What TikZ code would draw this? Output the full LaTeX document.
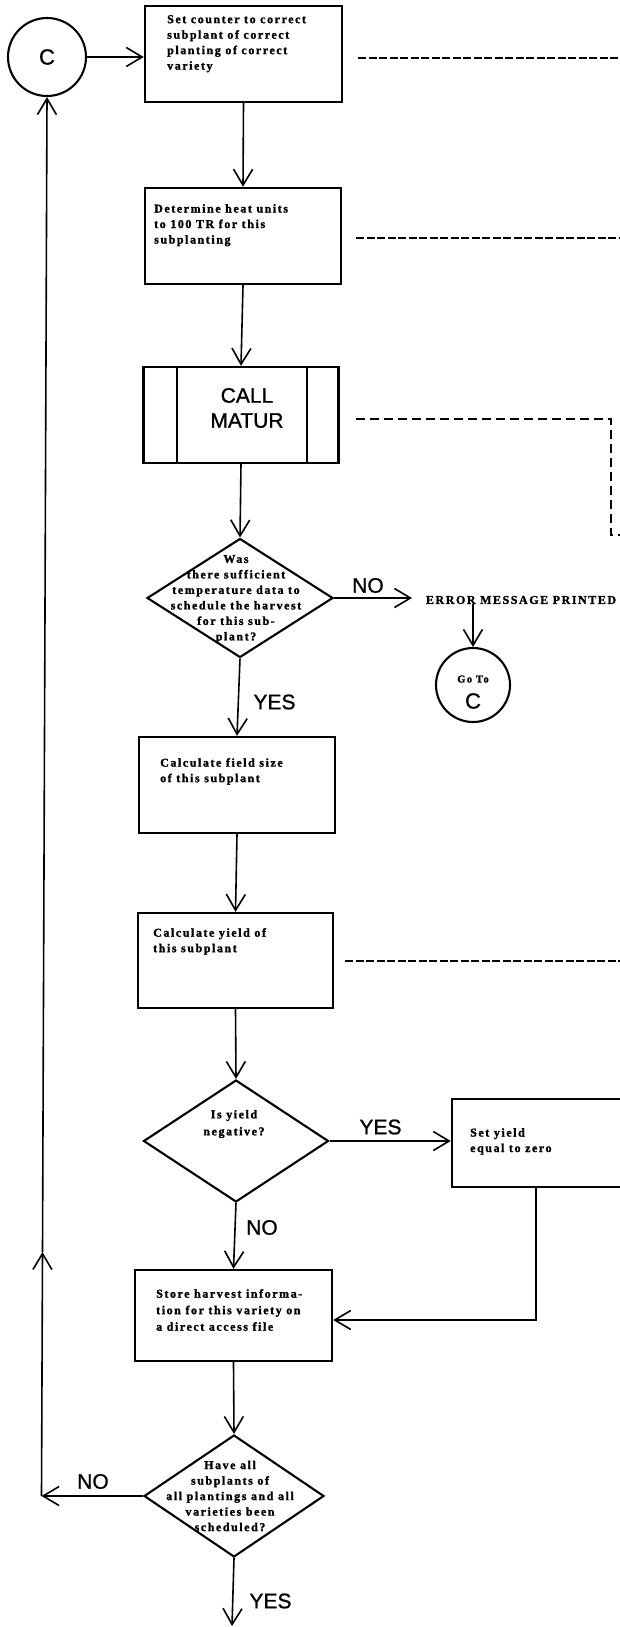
\documentclass[tikz,border=0pt]{standalone}
\usepackage{fontspec}
\setmainfont{Liberation Serif}
\newfontfamily\flowfont[LetterSpace=13,FakeBold=1.5]{Liberation Serif}
\newfontfamily\tagfont[FakeBold=1]{Liberation Sans}
\usetikzlibrary{shapes.geometric,arrows.meta}
\begin{document}
\begin{tikzpicture}[x=1pt,y=-1pt,
  proc/.style={draw, line width=2.4pt, rectangle, inner sep=0pt},
  decide/.style={draw, line width=2.1pt, diamond, inner sep=0pt},
  conn/.style={draw, line width=2.1pt, circle, inner sep=0pt},
  body/.style={inner sep=0pt, align=left, anchor=north west,
    font=\flowfont\bfseries\fontsize{12}{15.5}\selectfont},
  ask/.style={inner sep=0pt, align=center,
    font=\flowfont\bfseries\fontsize{12}{15.5}\selectfont},
  tag/.style={inner sep=0pt, font=\tagfont\fontsize{21}{21}\selectfont},
  flow/.style={line width=1.6pt, -{Straight Barb[length=16pt,width=19pt]}},
  link/.style={line width=2.4pt, dash pattern=on 8pt off 2.5pt},
  sublink/.style={line width=2pt, dash pattern=on 9pt off 5pt},
]
\fill[white] (0,0) rectangle (620,1627);
\useasboundingbox (0,0) rectangle (620,1627);

% entry connector
\node[conn, minimum size=78pt, font=\tagfont\fontsize{22}{22}\selectfont] (c) at (47,57) {C};

% process boxes
\node[proc, minimum width=197pt, minimum height=96pt] (b1) at (243.5,54) {};
\node[body] (b1t) at (167,15) {Set counter to correct\\subplant of correct\\planting of correct\\variety};

\node[proc, minimum width=196pt, minimum height=96pt] (b2) at (243,236) {};
\node[body] (b2t) at (154,204) {Determine heat units\\to 100 TR for this\\subplanting};

% subroutine call
\node[proc, minimum width=195pt, minimum height=96pt] (call) at (241,415) {};
\draw[line width=2.4pt] (177,367) -- (177,463) (307,367) -- (307,463);
\node[tag, align=center, font=\tagfont\fontsize{21}{25}\selectfont] (callt) at (247,408) {CALL\\MATUR};

% temperature check
\node[decide, minimum width=186pt, minimum height=119pt] (d1) at (240,598) {};
\node[ask] (d1t) at (236,599) {Was\\there sufficient\\temperature data to\\schedule the harvest\\for this sub-\\plant?};

\node[inner sep=0pt, outer xsep=14pt, anchor=west,
  font=\flowfont\bfseries\fontsize{12}{13}\selectfont] (err) at (412,600) {ERROR MESSAGE PRINTED};
\node[conn, minimum size=74pt] (goto) at (473,685) {};
\node[inner sep=0pt, font=\flowfont\bfseries\fontsize{10.5}{12}\selectfont] (gotot) at (473,679) {Go To};
\node[inner sep=0pt, font=\tagfont\fontsize{22}{22}\selectfont] (gotoc) at (473,701) {C};

\node[proc, minimum width=196pt, minimum height=96pt] (b3) at (237,785) {};
\node[body] (b3t) at (160,758) {Calculate field size\\of this subplant};

\node[proc, minimum width=195pt, minimum height=95pt] (b4) at (235.5,960.5) {};
\node[body] (b4t) at (153,928) {Calculate yield of\\this subplant};

% negative yield check
\node[decide, minimum width=185pt, minimum height=122pt] (d2) at (236,1141) {};
\node[ask, font=\flowfont\bfseries\fontsize{12}{17}\selectfont] (d2t) at (234,1124) {Is yield\\negative?};

\node[proc, minimum width=198pt, minimum height=88pt] (b5) at (551,1143) {};
\node[body] (b5t) at (470,1128) {Set yield\\equal to zero};

\node[proc, minimum width=197pt, minimum height=91pt] (b6) at (233.5,1315.5) {};
\node[body, font=\flowfont\bfseries\fontsize{12}{16.5}\selectfont] (b6t) at (156,1289) {Store harvest informa-\\tion for this variety on\\a direct access file};

% loop test
\node[decide, minimum width=180pt, minimum height=122pt] (d3) at (234,1496) {};
\node[ask] (d3t) at (230,1496) {Have all\\subplants of\\all plantings and all\\varieties been\\scheduled?};

% branch labels
\node[tag] (no1) at (368,585.5) {NO};
\node[tag] (yes1) at (274.5,702) {YES};
\node[tag] (yes2) at (380.5,1127) {YES};
\node[tag] (no2) at (262,1227.5) {NO};
\node[tag] (no3) at (93,1481.5) {NO};
\node[tag] (yes3) at (270.5,1601) {YES};

% free ends of the connectors
\coordinate (corner) at (41.5,1496);
\coordinate (upmark) at (42.5,1252);
\coordinate (exit) at (232,1626);
\coordinate (l1a) at (358,58);   \coordinate (l1b) at (620,58);
\coordinate (l2a) at (356,238);  \coordinate (l2b) at (620,238);
\coordinate (l3a) at (356,419);  \coordinate (l3k) at (611,419);
\coordinate (l3m) at (611,535);  \coordinate (l3b) at (620,535);
\coordinate (l4a) at (345,961);  \coordinate (l4b) at (620,961);

% main flow
\draw[flow] (c.east) -- (c.east -| b1.west);
\draw[flow] (b1.south) -- (b2.north);
\draw[flow] (b2.south) -- (call.north);
\draw[flow] (call.south) -- (d1.north);
\draw[flow] (d1.east) -- (d1.east -| err.west);
\draw[flow] (goto.north |- err.south) -- (goto.north);
\draw[flow] (d1.south) -- (b3.north);
\draw[flow] (b3.south) -- (b4.north);
\draw[flow] (b4.south) -- (d2.north);
\draw[flow] (d2.east) -- (d2.east -| b5.west);
\draw[flow] ([xshift=85pt]b5.south west) |- ([yshift=-4.5pt]b6.east);
\draw[flow] (d2.south) -- (b6.north);
\draw[flow] (b6.south) -- (d3.north);
\draw[flow] (d3.west) -- (corner);
\draw[flow] (corner) -- (upmark);
\draw[flow] (upmark) -- (c.south);
\draw[flow] (d3.south) -- (exit);

% links to other pages
\draw[link] (l1a) -- (l1b);
\draw[link] (l2a) -- (l2b);
\draw[sublink] (l3a) -- (l3k) -- (l3m) -- (l3b);
\draw[link] (l4a) -- (l4b);
\end{tikzpicture}
\end{document}
